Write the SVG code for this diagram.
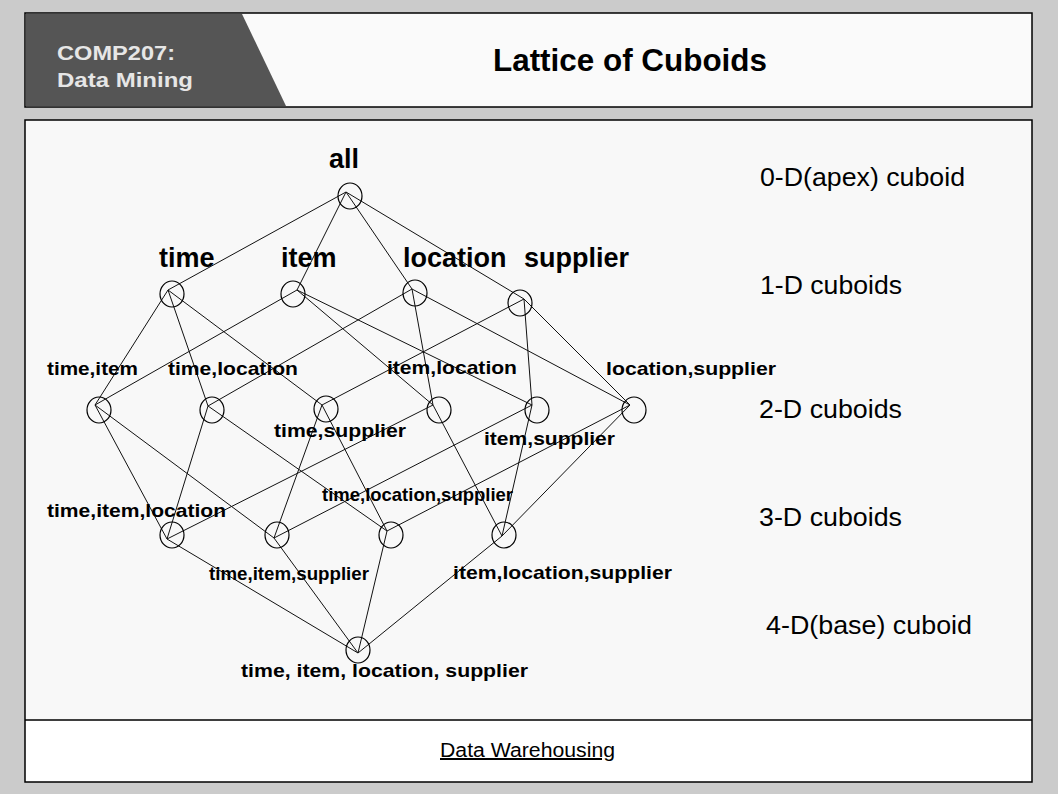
<svg xmlns="http://www.w3.org/2000/svg" width="1058" height="794" viewBox="0 0 1058 794">
<style>
text{font-family:"Liberation Sans",Arial,sans-serif;fill:#000}
.top{font-size:27px;font-weight:bold}
.lbl{font-size:19px;font-weight:bold}
.lvl{font-size:26px}
.node{fill:none;stroke:#000;stroke-width:1.2}
#edges line{stroke:#111;stroke-width:1}
</style>
<rect x="0" y="0" width="1058" height="794" fill="#cbcbcb"/>
<g id="header">
<rect x="25" y="13" width="1007" height="94" fill="#fafafa" stroke="#000" stroke-width="1.5"/>
<polygon points="26,14 242,14 286,106 26,106" fill="#555555"/>
<text x="57" y="60" font-size="21" font-weight="bold" style="fill:#e6e6e6" textLength="118" lengthAdjust="spacingAndGlyphs">COMP207:</text>
<text x="57" y="87" font-size="21" font-weight="bold" style="fill:#e6e6e6" textLength="136" lengthAdjust="spacingAndGlyphs">Data Mining</text>
<text x="493" y="71" font-size="32" font-weight="bold" textLength="274" lengthAdjust="spacingAndGlyphs">Lattice of Cuboids</text>
</g>
<g id="panel">
<rect x="25" y="120" width="1007" height="662" fill="#f8f8f8" stroke="#000" stroke-width="1.5"/>
<rect x="26" y="721" width="1005" height="60" fill="#ffffff"/>
<line x1="25" y1="720" x2="1032" y2="720" stroke="#000" stroke-width="1.5"/>
<text x="440" y="757" font-size="20" text-decoration="underline" textLength="175" lengthAdjust="spacingAndGlyphs">Data Warehousing</text>
</g>
<g id="edges">
<line x1="346" y1="192" x2="168" y2="290"/>
<line x1="346" y1="192" x2="297" y2="290"/>
<line x1="346" y1="192" x2="412" y2="289"/>
<line x1="346" y1="192" x2="524" y2="299"/>
<line x1="168" y1="290" x2="95" y2="405"/>
<line x1="168" y1="290" x2="208" y2="406"/>
<line x1="168" y1="290" x2="322" y2="405"/>
<line x1="297" y1="290" x2="95" y2="405"/>
<line x1="297" y1="290" x2="433" y2="405"/>
<line x1="297" y1="290" x2="532" y2="405"/>
<line x1="412" y1="289" x2="208" y2="406"/>
<line x1="412" y1="289" x2="433" y2="405"/>
<line x1="412" y1="289" x2="630" y2="405"/>
<line x1="524" y1="299" x2="322" y2="405"/>
<line x1="524" y1="299" x2="532" y2="405"/>
<line x1="524" y1="299" x2="630" y2="405"/>
<line x1="95" y1="405" x2="167" y2="539"/>
<line x1="95" y1="405" x2="274" y2="538"/>
<line x1="208" y1="406" x2="167" y2="539"/>
<line x1="208" y1="406" x2="387" y2="531"/>
<line x1="322" y1="405" x2="274" y2="538"/>
<line x1="322" y1="405" x2="387" y2="531"/>
<line x1="433" y1="405" x2="167" y2="539"/>
<line x1="433" y1="405" x2="502" y2="536"/>
<line x1="532" y1="405" x2="274" y2="538"/>
<line x1="532" y1="405" x2="502" y2="536"/>
<line x1="630" y1="405" x2="387" y2="531"/>
<line x1="630" y1="405" x2="502" y2="536"/>
<line x1="167" y1="539" x2="358" y2="653"/>
<line x1="274" y1="538" x2="358" y2="653"/>
<line x1="387" y1="531" x2="358" y2="653"/>
<line x1="502" y1="536" x2="358" y2="653"/>
</g>
<g id="n-all"><ellipse class="node" cx="350" cy="196" rx="12" ry="13"/><text class="top" x="329" y="168">all</text></g>
<g id="n-time"><ellipse class="node" cx="172" cy="294" rx="12" ry="13"/><text class="top" x="159" y="267">time</text></g>
<g id="n-item"><ellipse class="node" cx="293" cy="294" rx="12" ry="13"/><text class="top" x="281" y="267">item</text></g>
<g id="n-location"><ellipse class="node" cx="415" cy="293" rx="12" ry="13"/><text class="top" x="403" y="267">location</text></g>
<g id="n-supplier"><ellipse class="node" cx="520" cy="303" rx="12" ry="13"/><text class="top" x="524" y="267">supplier</text></g>
<g id="n-time-item"><ellipse class="node" cx="99" cy="410" rx="12" ry="13"/><text class="lbl" x="47" y="375" textLength="91" lengthAdjust="spacingAndGlyphs">time,item</text></g>
<g id="n-time-location"><ellipse class="node" cx="212" cy="410" rx="12" ry="13"/><text class="lbl" x="168" y="375" textLength="130" lengthAdjust="spacingAndGlyphs">time,location</text></g>
<g id="n-time-supplier"><ellipse class="node" cx="326" cy="409" rx="12" ry="13"/><text class="lbl" x="274" y="437" textLength="132" lengthAdjust="spacingAndGlyphs">time,supplier</text></g>
<g id="n-item-location"><ellipse class="node" cx="439" cy="410" rx="12" ry="13"/><text class="lbl" x="387" y="374" textLength="130" lengthAdjust="spacingAndGlyphs">item,location</text></g>
<g id="n-item-supplier"><ellipse class="node" cx="537" cy="410" rx="12" ry="13"/><text class="lbl" x="484" y="445" textLength="131" lengthAdjust="spacingAndGlyphs">item,supplier</text></g>
<g id="n-location-supplier"><ellipse class="node" cx="634" cy="410" rx="12" ry="13"/><text class="lbl" x="606" y="375" textLength="170" lengthAdjust="spacingAndGlyphs">location,supplier</text></g>
<g id="n-time-item-location"><ellipse class="node" cx="172" cy="535" rx="12" ry="13"/><text class="lbl" x="47" y="517" textLength="179" lengthAdjust="spacingAndGlyphs">time,item,location</text></g>
<g id="n-time-item-supplier"><ellipse class="node" cx="277" cy="535" rx="12" ry="13"/><text class="lbl" x="209" y="580" textLength="160" lengthAdjust="spacingAndGlyphs">time,item,supplier</text></g>
<g id="n-time-location-supplier"><ellipse class="node" cx="391" cy="535" rx="12" ry="13"/><text class="lbl" x="322" y="501" textLength="191" lengthAdjust="spacingAndGlyphs">time,location,supplier</text></g>
<g id="n-item-location-supplier"><ellipse class="node" cx="504" cy="535" rx="12" ry="13"/><text class="lbl" x="453" y="579" textLength="219" lengthAdjust="spacingAndGlyphs">item,location,supplier</text></g>
<g id="n-base"><ellipse class="node" cx="358" cy="650" rx="12" ry="13"/><text class="lbl" x="241" y="677" textLength="287" lengthAdjust="spacingAndGlyphs">time, item, location, supplier</text></g>
<g id="levels">
<text class="lvl" x="760" y="186" textLength="205" lengthAdjust="spacingAndGlyphs">0-D(apex) cuboid</text>
<text class="lvl" x="760" y="294" textLength="142" lengthAdjust="spacingAndGlyphs">1-D cuboids</text>
<text class="lvl" x="759" y="418" textLength="143" lengthAdjust="spacingAndGlyphs">2-D cuboids</text>
<text class="lvl" x="759" y="526" textLength="143" lengthAdjust="spacingAndGlyphs">3-D cuboids</text>
<text class="lvl" x="766" y="634" textLength="206" lengthAdjust="spacingAndGlyphs">4-D(base) cuboid</text>
</g>
</svg>
